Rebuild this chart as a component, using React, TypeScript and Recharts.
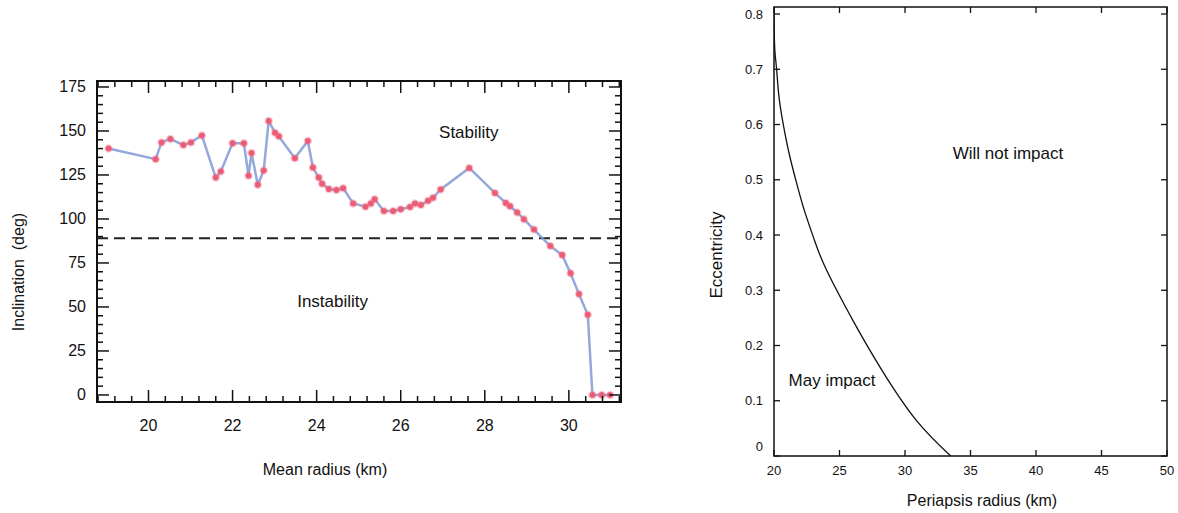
import React from 'react';
import { LineChart, Line, XAxis, YAxis, ReferenceLine, ReferenceDot, ReferenceArea, Label } from 'recharts';

// Left panel: inclination vs mean radius
const radiusKm = [
  19.05, 20.17, 20.31, 20.52, 20.83, 21.01, 21.27, 21.6, 21.72, 22.0, 22.27, 22.38, 22.45, 22.6,
  22.74, 22.86, 23.01, 23.1, 23.48, 23.79, 23.91, 24.05, 24.13, 24.29, 24.47, 24.63, 24.87, 25.16,
  25.29, 25.38, 25.6, 25.82, 26.0, 26.22, 26.34, 26.48, 26.65, 26.77, 26.95, 27.63, 28.24, 28.5,
  28.6, 28.77, 28.93, 29.17, 29.56, 29.84, 30.04, 30.24, 30.45, 30.56, 30.78, 30.98,
];
const inclinationDeg = [
  140, 134, 143.5, 145.5, 142, 143.5, 147.5, 123.5, 127, 143, 143, 124.5, 137.5, 119.5,
  127.5, 155.7, 149, 147, 134.5, 144.3, 129.2, 123.5, 120, 117, 116.5, 117.5, 108.8, 107,
  108.8, 111.2, 104.5, 104.5, 105.5, 106.8, 108.8, 108, 110.3, 112, 116.8, 129, 114.8, 109.1,
  107.3, 103.7, 99.9, 94, 84.6, 79.5, 69.1, 57.3, 45.6, 0, 0, 0,
];
const radiusMajorTicks = [20, 22, 24, 26, 28, 30];
const inclinationMajorTicks = [0, 25, 50, 75, 100, 125, 150, 175];
const stabilityThreshold = 89;

// Right panel: eccentricity vs periapsis radius
const periapsisKm = [
  20.0, 20.02, 20.08, 20.2, 20.38, 20.71, 21.15, 21.68, 22.31, 23.08, 24.0, 26.01, 28.22, 30.85, 33.49,
];
const eccentricity = [
  0.81, 0.765, 0.729, 0.7, 0.65, 0.6, 0.548, 0.498, 0.445, 0.391, 0.337, 0.246, 0.156, 0.065, 0.0,
];
const periapsisTicks = [20, 25, 30, 35, 40, 45, 50];
const eccentricityTicks = [0, 0.1, 0.2, 0.3, 0.4, 0.5, 0.6, 0.7, 0.8];
const eccentricityLabels = ['0', '0.1', '0.2', '0.3', '0.4', '0.5', '0.6', '0.7', '0.8'];

const stabilityData = radiusKm.map((r, i) => ({ r, inc: inclinationDeg[i] }));
const impactData = periapsisKm.map((rp, i) => ({ rp, e: eccentricity[i] }));

// minor tick positions (rounded to avoid float drift)
const steps = (from: number, to: number, step: number) => {
  const out: number[] = [];
  for (let v = from; v <= to + 1e-9; v += step) out.push(Math.round(v * 100) / 100);
  return out;
};
const radiusAllTicks = steps(18.8, 31.2, 0.4);
const inclinationAllTicks = steps(0, 175, 5);

const FONT = '"Liberation Sans", Arial, Helvetica, sans-serif';
const INK = '#111';

const inList = (list: number[]) => (v: number) => list.some((t) => Math.abs(t - v) < 1e-6);

// plot frames in each chart's own pixel space
const LEFT_BOX = { left: 97, right: 621, top: 81, bottom: 402 };
const RIGHT_BOX = { left: 134, right: 527, top: 7, bottom: 456 };

// ticks drawn inward on both opposite sides of the frame, labels outside
const XTick = (props: any) => {
  const { x, payload, box, isMajor, majorLen, minorLen, label, fontSize, gap, sw } = props;
  const v = payload.value;
  const major = isMajor(v);
  const len = major ? majorLen : minorLen;
  return (
    <g>
      <line x1={x} y1={box.bottom} x2={x} y2={box.bottom - len} stroke={INK} strokeWidth={sw} />
      <line x1={x} y1={box.top} x2={x} y2={box.top + len} stroke={INK} strokeWidth={sw} />
      {major && label && (
        <text x={x} y={box.bottom + gap} textAnchor="middle" dominantBaseline="central" fontSize={fontSize} fill={INK}>
          {label(v)}
        </text>
      )}
    </g>
  );
};

const YTick = (props: any) => {
  const { y, payload, box, isMajor, majorLen, minorLen, label, fontSize, gap, sw, zeroDy = 0 } = props;
  const v = payload.value;
  const major = isMajor(v);
  const len = major ? majorLen : minorLen;
  return (
    <g>
      <line x1={box.left} y1={y} x2={box.left + len} y2={y} stroke={INK} strokeWidth={sw} />
      <line x1={box.right} y1={y} x2={box.right - len} y2={y} stroke={INK} strokeWidth={sw} />
      {major && label && (
        <text
          x={box.left - gap}
          y={y + (v === 0 ? zeroDy : 0)}
          textAnchor="end"
          dominantBaseline="central"
          fontSize={fontSize}
          fill={INK}
        >
          {label(v)}
        </text>
      )}
    </g>
  );
};

const isRadiusMajor = inList(radiusMajorTicks);
const isInclMajor = inList(inclinationMajorTicks);
const always = () => true;

function StabilityPanel() {
  return (
    <div style={{ position: 'absolute', left: 0, top: 0 }}>
      <LineChart width={640} height={513} data={stabilityData} margin={{ top: 81, right: 19, bottom: 0, left: 0 }}>
        <XAxis
          dataKey="r"
          type="number"
          domain={[18.775, 31.24]}
          allowDataOverflow
          ticks={radiusAllTicks}
          interval={0}
          height={111}
          tickLine={false}
          axisLine={false}
          tick={(p: any) => (
            <XTick {...p} box={LEFT_BOX} isMajor={isRadiusMajor} majorLen={12} minorLen={6} label={(v: number) => String(v)} fontSize={16} gap={23} sw={1.5} />
          )}
        >
          <Label
            content={() => (
              <text x={325} y={469} textAnchor="middle" dominantBaseline="central" fontSize={16} fill={INK}>
                Mean radius (km)
              </text>
            )}
          />
        </XAxis>
        <YAxis
          type="number"
          domain={[-4, 178.4]}
          allowDataOverflow
          ticks={inclinationAllTicks}
          interval={0}
          width={97}
          tickLine={false}
          axisLine={false}
          tick={(p: any) => (
            <YTick {...p} box={LEFT_BOX} isMajor={isInclMajor} majorLen={12} minorLen={6} label={(v: number) => String(v)} fontSize={16} gap={11} sw={1.5} />
          )}
        >
          <Label
            content={() => (
              <text
                x={18}
                y={272}
                transform="rotate(-90 18 272)"
                textAnchor="middle"
                dominantBaseline="central"
                fontSize={16}
                fill={INK}
                style={{ whiteSpace: 'pre' }}
              >
                {'Inclination  (deg)'}
              </text>
            )}
          />
        </YAxis>
        <ReferenceArea x1={18.775} x2={31.24} y1={-4} y2={178.4} fill="none" stroke={INK} strokeWidth={2} fillOpacity={0} />
        <ReferenceLine y={stabilityThreshold} stroke="#222" strokeWidth={2} strokeDasharray="11 6" />
        <Line
          dataKey="inc"
          type="linear"
          stroke="#8199d6"
          strokeOpacity={0.85}
          strokeWidth={2.5}
          dot={{ r: 3, fill: '#ec5a74', stroke: 'rgba(240,110,135,0.4)', strokeWidth: 2.5 }}
          isAnimationActive={false}
        />
        <ReferenceDot x={27.62} y={149.3} r={0} label={{ value: 'Stability', position: 'center', fontSize: 17, fill: INK }} />
        <ReferenceDot x={24.38} y={53.3} r={0} label={{ value: 'Instability', position: 'center', fontSize: 17, fill: INK }} />
      </LineChart>
    </div>
  );
}

function ImpactPanel() {
  const eccLabel = (v: number) => eccentricityLabels[eccentricityTicks.findIndex((t) => Math.abs(t - v) < 1e-6)];
  return (
    <div style={{ position: 'absolute', left: 640, top: 0 }}>
      <LineChart width={538} height={513} data={impactData} margin={{ top: 7, right: 11, bottom: 0, left: 0 }}>
        <XAxis
          dataKey="rp"
          type="number"
          domain={[20, 50]}
          allowDataOverflow
          ticks={periapsisTicks}
          interval={0}
          height={57}
          tickLine={false}
          axisLine={false}
          tick={(p: any) => (
            <XTick {...p} box={RIGHT_BOX} isMajor={always} majorLen={6} minorLen={6} label={(v: number) => String(v)} fontSize={13} gap={14} sw={1.3} />
          )}
        >
          <Label
            content={() => (
              <text x={342} y={500} textAnchor="middle" dominantBaseline="central" fontSize={16} fill={INK}>
                Periapsis radius (km)
              </text>
            )}
          />
        </XAxis>
        <YAxis
          type="number"
          domain={[0, 0.8127]}
          allowDataOverflow
          ticks={eccentricityTicks}
          interval={0}
          width={134}
          tickLine={false}
          axisLine={false}
          tick={(p: any) => (
            <YTick {...p} box={RIGHT_BOX} isMajor={always} majorLen={6} minorLen={6} label={eccLabel} fontSize={13} gap={11} sw={1.3} zeroDy={-10} />
          )}
        >
          <Label
            content={() => (
              <text x={76} y={255} transform="rotate(-90 76 255)" textAnchor="middle" dominantBaseline="central" fontSize={17} fill={INK}>
                Eccentricity
              </text>
            )}
          />
        </YAxis>
        <ReferenceArea x1={20} x2={50} y1={0} y2={0.8127} fill="none" stroke={INK} strokeWidth={1.5} fillOpacity={0} />
        <Line dataKey="e" type="natural" stroke={INK} strokeWidth={1.3} dot={false} isAnimationActive={false} />
        <ReferenceDot x={37.86} y={0.548} r={0} label={{ value: 'Will not impact', position: 'center', fontSize: 17, fill: INK }} />
        <ReferenceDot x={24.43} y={0.1375} r={0} label={{ value: 'May impact', position: 'center', fontSize: 17, fill: INK }} />
      </LineChart>
    </div>
  );
}

export default function App() {
  return (
    <div style={{ position: 'absolute', left: 0, top: 0, width: 1178, height: 513, background: '#fff', fontFamily: FONT }}>
      <StabilityPanel />
      <ImpactPanel />
    </div>
  );
}
